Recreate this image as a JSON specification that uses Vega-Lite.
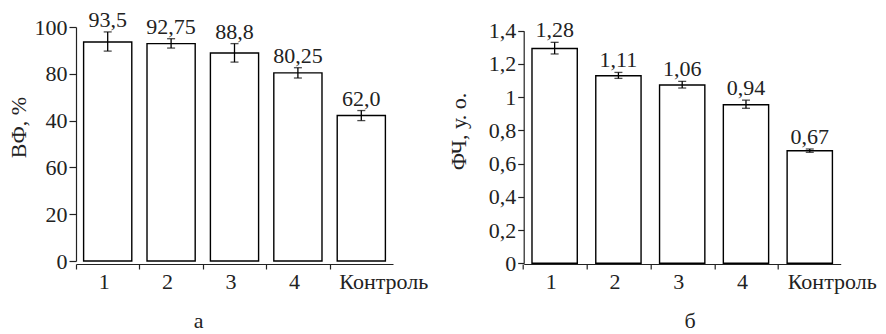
{
  "$schema": "https://vega.github.io/schema/vega-lite/v6.json",
  "padding": {"left": 7, "top": 8, "right": 0, "bottom": 0},
  "background": "white",
  "bounds": "flush",
  "spacing": 130.7,
  "datasets": {
    "vf": [
      {"cat": "1", "val": 93.6, "lo": 89.7, "hi": 97.9, "label": "93,5"},
      {"cat": "2", "val": 92.9, "lo": 91.0, "hi": 95.0, "label": "92,75"},
      {"cat": "3", "val": 88.9, "lo": 85.0, "hi": 92.9, "label": "88,8"},
      {"cat": "4", "val": 80.4, "lo": 78.2, "hi": 82.6, "label": "80,25"},
      {"cat": "Контроль", "val": 62.2, "lo": 60.0, "hi": 64.3, "label": "62,0"}
    ],
    "fch": [
      {"cat": "1", "val": 1.293, "lo": 1.26, "hi": 1.33, "label": "1,28"},
      {"cat": "2", "val": 1.129, "lo": 1.113, "hi": 1.149, "label": "1,11"},
      {"cat": "3", "val": 1.073, "lo": 1.055, "hi": 1.095, "label": "1,06"},
      {"cat": "4", "val": 0.954, "lo": 0.933, "hi": 0.982, "label": "0,94"},
      {"cat": "Контроль", "val": 0.677, "lo": 0.668, "hi": 0.688, "label": "0,67"}
    ]
  },
  "config": {
    "font": "Liberation Serif",
    "view": {"stroke": null},
    "axis": {
      "grid": false,
      "domainColor": "#222", "domainWidth": 1.2,
      "tickColor": "#222", "tickWidth": 1.2,
      "labelColor": "#222", "titleColor": "#222",
      "labelFont": "Liberation Serif", "titleFont": "Liberation Serif",
      "labelFontSize": 22, "titleFontSize": 22, "titleFontWeight": "normal",
      "labelOverlap": false
    }
  },
  "hconcat": [
    {
      "width": 317,
      "height": 237,
      "data": {"name": "vf"},
      "encoding": {
        "x": {
          "field": "cat", "type": "nominal", "sort": null,
          "scale": {"paddingInner": 0.24, "paddingOuter": 0.12},
          "axis": {
            "title": "а", "titleX": 122, "titleY": 56, "titleBaseline": "middle",
            "labelAngle": 0, "tickSize": 5, "labelPadding": 2,
            "tickOffset": -31.7,
            "labelOffset": {"condition": {"test": "datum.value === 'Контроль'", "value": 53.7}, "value": 27.7}
          }
        }
      },
      "layer": [
        {
          "mark": {"type": "bar", "fill": "white", "stroke": "black", "strokeWidth": 1.4},
          "encoding": {
            "y": {
              "field": "val", "type": "quantitative", "title": "ВФ, %",
              "scale": {"domain": [0, 100], "range": [234, 0], "nice": false},
              "axis": {
                "titleX": -58, "titleY": 100, "titleBaseline": "middle", "titleAngle": -90,
                "labelOverlap": false, "values": [0, 20, 40, 60, 80, 100], "tickSize": 7, "labelPadding": 2,
                "labelExpr": "datum.value === 40 ? '60' : datum.value === 60 ? '40' : datum.label"
              }
            }
          }
        },
        {
          "mark": {"type": "rule", "color": "black", "strokeWidth": 1.3},
          "encoding": {
            "y": {
              "field": "lo", "type": "quantitative", "title": "ВФ, %",
              "scale": {"domain": [0, 100], "range": [234, 0], "nice": false},
              "axis": {
                "titleX": -58, "titleY": 100, "titleBaseline": "middle", "titleAngle": -90,
                "labelOverlap": false, "values": [0, 20, 40, 60, 80, 100], "tickSize": 7, "labelPadding": 2,
                "labelExpr": "datum.value === 40 ? '60' : datum.value === 60 ? '40' : datum.label"
              }
            },
            "y2": {"field": "hi"}
          }
        },
        {
          "mark": {"type": "tick", "color": "black", "thickness": 1.3, "size": 8},
          "encoding": {
            "y": {
              "field": "lo", "type": "quantitative", "title": "ВФ, %",
              "scale": {"domain": [0, 100], "range": [234, 0], "nice": false},
              "axis": {
                "titleX": -58, "titleY": 100, "titleBaseline": "middle", "titleAngle": -90,
                "labelOverlap": false, "values": [0, 20, 40, 60, 80, 100], "tickSize": 7, "labelPadding": 2,
                "labelExpr": "datum.value === 40 ? '60' : datum.value === 60 ? '40' : datum.label"
              }
            }
          }
        },
        {
          "mark": {"type": "tick", "color": "black", "thickness": 1.3, "size": 8},
          "encoding": {
            "y": {
              "field": "hi", "type": "quantitative", "title": "ВФ, %",
              "scale": {"domain": [0, 100], "range": [234, 0], "nice": false},
              "axis": {
                "titleX": -58, "titleY": 100, "titleBaseline": "middle", "titleAngle": -90,
                "labelOverlap": false, "values": [0, 20, 40, 60, 80, 100], "tickSize": 7, "labelPadding": 2,
                "labelExpr": "datum.value === 40 ? '60' : datum.value === 60 ? '40' : datum.label"
              }
            }
          }
        },
        {
          "mark": {"type": "text", "font": "Liberation Serif", "fontSize": 22, "baseline": "alphabetic", "dy": -5, "color": "#222"},
          "encoding": {
            "y": {
              "field": "hi", "type": "quantitative", "title": "ВФ, %",
              "scale": {"domain": [0, 100], "range": [234, 0], "nice": false},
              "axis": {
                "titleX": -58, "titleY": 100, "titleBaseline": "middle", "titleAngle": -90,
                "labelOverlap": false, "values": [0, 20, 40, 60, 80, 100], "tickSize": 7, "labelPadding": 2,
                "labelExpr": "datum.value === 40 ? '60' : datum.value === 60 ? '40' : datum.label"
              }
            },
            "text": {"field": "label"}
          }
        }
      ]
    },
    {
      "width": 317,
      "height": 237,
      "data": {"name": "fch"},
      "encoding": {
        "x": {
          "field": "cat", "type": "nominal", "sort": null,
          "scale": {"paddingInner": 0.29, "paddingOuter": 0.13},
          "axis": {
            "title": "б", "titleX": 166, "titleY": 56, "titleBaseline": "middle",
            "labelAngle": 0, "tickSize": 5, "labelPadding": 2,
            "tickOffset": -31.7,
            "labelOffset": {"condition": {"test": "datum.value === 'Контроль'", "value": 53.7}, "value": 27.7}
          }
        }
      },
      "layer": [
        {
          "mark": {"type": "bar", "fill": "white", "stroke": "black", "strokeWidth": 1.4},
          "encoding": {
            "y": {
              "field": "val", "type": "quantitative", "title": "ФЧ, у. о.",
              "scale": {"domain": [0, 1.4], "range": [236.3, 3.7], "nice": false},
              "axis": {
                "titleX": -65, "titleY": 104, "titleBaseline": "middle", "titleAngle": -90,
                "labelOverlap": false, "values": [0, 0.2, 0.4, 0.6, 0.8, 1, 1.2, 1.4], "tickSize": 6, "labelPadding": 2,
                "labelExpr": "replace(format(datum.value, '.1~f'), '.', ',')"
              }
            }
          }
        },
        {
          "mark": {"type": "rule", "color": "black", "strokeWidth": 1.3},
          "encoding": {
            "y": {
              "field": "lo", "type": "quantitative", "title": "ФЧ, у. о.",
              "scale": {"domain": [0, 1.4], "range": [236.3, 3.7], "nice": false},
              "axis": {
                "titleX": -65, "titleY": 104, "titleBaseline": "middle", "titleAngle": -90,
                "labelOverlap": false, "values": [0, 0.2, 0.4, 0.6, 0.8, 1, 1.2, 1.4], "tickSize": 6, "labelPadding": 2,
                "labelExpr": "replace(format(datum.value, '.1~f'), '.', ',')"
              }
            },
            "y2": {"field": "hi"}
          }
        },
        {
          "mark": {"type": "tick", "color": "black", "thickness": 1.3, "size": 8},
          "encoding": {
            "y": {
              "field": "lo", "type": "quantitative", "title": "ФЧ, у. о.",
              "scale": {"domain": [0, 1.4], "range": [236.3, 3.7], "nice": false},
              "axis": {
                "titleX": -65, "titleY": 104, "titleBaseline": "middle", "titleAngle": -90,
                "labelOverlap": false, "values": [0, 0.2, 0.4, 0.6, 0.8, 1, 1.2, 1.4], "tickSize": 6, "labelPadding": 2,
                "labelExpr": "replace(format(datum.value, '.1~f'), '.', ',')"
              }
            }
          }
        },
        {
          "mark": {"type": "tick", "color": "black", "thickness": 1.3, "size": 8},
          "encoding": {
            "y": {
              "field": "hi", "type": "quantitative", "title": "ФЧ, у. о.",
              "scale": {"domain": [0, 1.4], "range": [236.3, 3.7], "nice": false},
              "axis": {
                "titleX": -65, "titleY": 104, "titleBaseline": "middle", "titleAngle": -90,
                "labelOverlap": false, "values": [0, 0.2, 0.4, 0.6, 0.8, 1, 1.2, 1.4], "tickSize": 6, "labelPadding": 2,
                "labelExpr": "replace(format(datum.value, '.1~f'), '.', ',')"
              }
            }
          }
        },
        {
          "mark": {"type": "text", "font": "Liberation Serif", "fontSize": 22, "baseline": "alphabetic", "dy": -5, "color": "#222"},
          "encoding": {
            "y": {
              "field": "hi", "type": "quantitative", "title": "ФЧ, у. о.",
              "scale": {"domain": [0, 1.4], "range": [236.3, 3.7], "nice": false},
              "axis": {
                "titleX": -65, "titleY": 104, "titleBaseline": "middle", "titleAngle": -90,
                "labelOverlap": false, "values": [0, 0.2, 0.4, 0.6, 0.8, 1, 1.2, 1.4], "tickSize": 6, "labelPadding": 2,
                "labelExpr": "replace(format(datum.value, '.1~f'), '.', ',')"
              }
            },
            "text": {"field": "label"}
          }
        }
      ]
    }
  ]
}
